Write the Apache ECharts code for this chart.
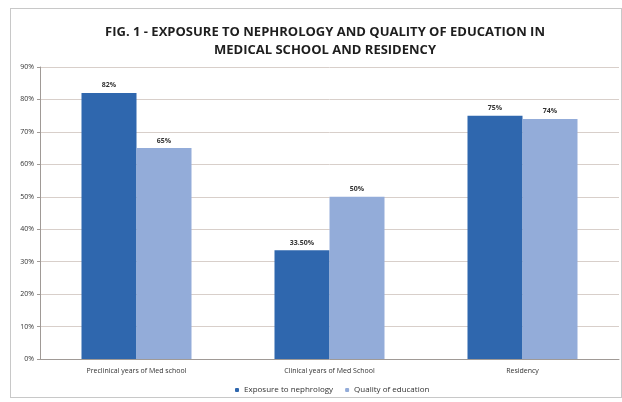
<!DOCTYPE html>
<html>
<head>
<meta charset="utf-8">
<script src="https://cdn.jsdelivr.net/npm/echarts@6/dist/echarts.min.js"></script>
<style>
  html, body { margin: 0; padding: 0; background: #ffffff; }
  #frame { position: absolute; left: 10px; top: 8px; width: 612px; height: 390px; border: 1px solid #c8c8c8; box-sizing: border-box; }
  #chart { width: 622px; height: 402px; }
</style>
</head>
<body>
<div id="frame"></div>
<div id="chart"></div>
<script>
// 数据
const categories = ['Preclinical years of Med school', 'Clinical years of Med School', 'Residency'];
const exposure = [82, 33.5, 75];
const quality = [65, 50, 74];
const exposureLabels = ['82%', '33.50%', '75%'];
const qualityLabels = ['65%', '50%', '74%'];

const chart = echarts.init(document.getElementById('chart'));

const labelFor = (texts) => ({
  show: true,
  position: 'top',
  distance: 4,
  fontSize: 7,
  fontWeight: 'bold',
  color: '#333',
  fontFamily: 'Open Sans',
  formatter: (p) => texts[p.dataIndex],
});

chart.setOption({
  animation: false,
  title: {
    text: 'FIG. 1 - EXPOSURE TO NEPHROLOGY AND QUALITY OF EDUCATION IN\nMEDICAL SCHOOL AND RESIDENCY',
    left: 320,
    textAlign: 'center',
    top: 18,
    textStyle: { fontSize: 13, fontWeight: 'bold', color: '#1e1e1e', fontFamily: 'Open Sans', lineHeight: 18 },
  },
  legend: {
    top: 381,
    left: 230,
    itemWidth: 4,
    itemHeight: 4,
    itemGap: 12,
    textStyle: { fontSize: 8, color: '#333', fontFamily: 'Open Sans' },
    data: ['Exposure to nephrology', 'Quality of education'],
  },
  grid: { left: 40, right: 3, top: 67, bottom: 43 },
  xAxis: {
    type: 'category',
    data: categories,
    axisTick: { show: false },
    axisLine: { lineStyle: { color: '#a09a96' } },
    axisLabel: { fontSize: 7, color: '#333', fontFamily: 'Open Sans', margin: 8 },
  },
  yAxis: {
    type: 'value',
    min: 0,
    max: 90,
    interval: 10,
    axisLine: { show: true, lineStyle: { color: '#a09a96' } },
    axisTick: { show: true, length: 3, lineStyle: { color: '#a09a96' } },
    axisLabel: { fontSize: 7, color: '#333', fontFamily: 'Open Sans', formatter: '{value}%', margin: 6 },
    splitLine: { lineStyle: { color: '#d8cfca' } },
  },
  series: [
    {
      name: 'Exposure to nephrology',
      type: 'bar',
      data: exposure,
      barWidth: '28.5%',
      barGap: '0%',
      itemStyle: { color: '#2f67ae' },
      label: labelFor(exposureLabels),
    },
    {
      name: 'Quality of education',
      type: 'bar',
      data: quality,
      barWidth: '28.5%',
      itemStyle: { color: '#93acd9' },
      label: labelFor(qualityLabels),
    },
  ],
});
</script>
</body>
</html>
